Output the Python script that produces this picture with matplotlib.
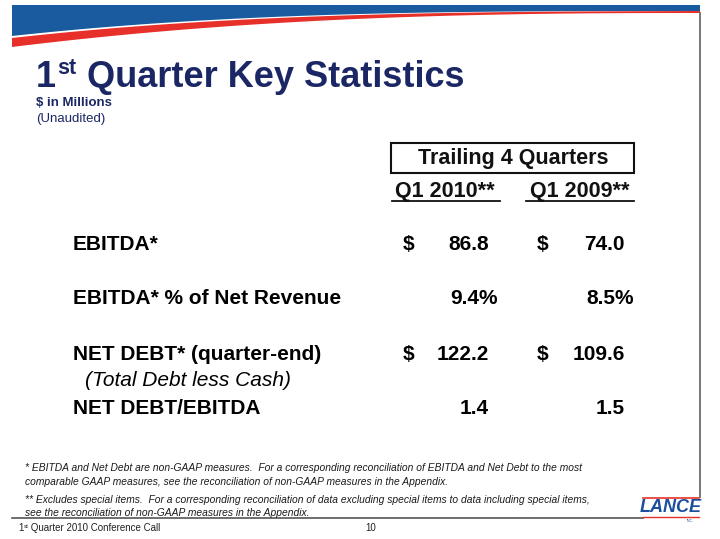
import numpy as np
import matplotlib
matplotlib.use("Agg")
import matplotlib.pyplot as plt
from matplotlib.patches import Polygon, Rectangle

# ---- data ----
row_labels = ["EBITDA*", "EBITDA* % of Net Revenue", "NET DEBT* (quarter-end)", "NET DEBT/EBITDA"]
row_kinds = ["dollar", "pct", "dollar", "ratio"]
q1_2010 = [86.8, 9.4, 122.2, 1.4]
q1_2009 = [74.0, 8.5, 109.6, 1.5]
col_headers = ["Q1 2010**", "Q1 2009**"]
group_header = "Trailing 4 Quarters"
sub_label = "(Total Debt less Cash)"
footnotes = [
    "* EBITDA and Net Debt are non-GAAP measures.  For a corresponding reconciliation of EBITDA and Net Debt to the most",
    "comparable GAAP measures, see the reconciliation of non-GAAP measures in the Appendix.",
    "** Excludes special items.  For a corresponding reconciliation of data excluding special items to data including special items,",
    "see the reconciliation of non-GAAP measures in the Appendix.",
]

NAVY = "#1b2664"
BLUE = "#1a5a9e"
RED = "#e8302a"
FONT = "Liberation Sans"
TFS = 15  # table font size

fig = plt.figure(figsize=(7.2, 5.39), dpi=100)
ax = fig.add_axes([0, 0, 1, 1])
ax.set_xlim(0, 720)
ax.set_ylim(539, 0)
ax.axis("off")

# ---- banner ----
xs = np.linspace(12, 700, 200)
t = (700 - xs) / 688.0
blue_bot = 11 + 25 * t ** 3
red_top = blue_bot + 2 * t
red_bot = 13 + 34 * t ** 2.5
blue_poly = np.vstack([np.column_stack([xs, np.full_like(xs, 5)]),
                       np.column_stack([xs[::-1], blue_bot[::-1]])])
ax.add_patch(Polygon(blue_poly, closed=True, facecolor=BLUE, edgecolor="none"))
red_poly = np.vstack([np.column_stack([xs, red_top]),
                      np.column_stack([xs[::-1], red_bot[::-1]])])
ax.add_patch(Polygon(red_poly, closed=True, facecolor=RED, edgecolor="none"))

# right border and bottom line
ax.plot([700, 700], [13, 497], color="#6b6b6b", lw=1.3)
ax.plot([12, 643], [518, 518], color="#555555", lw=1.2)

# ---- title ----
fig.canvas.draw()
r = fig.canvas.get_renderer()
inv = ax.transData.inverted()

def right_of(txt):
    bb = txt.get_window_extent(renderer=r)
    return inv.transform((bb.x1, bb.y0))[0]

t1 = ax.text(36, 87, "1", fontsize=26, fontweight="bold", color=NAVY, family=FONT, va="baseline")
x1 = right_of(t1)
t2 = ax.text(x1 + 1, 74, "st", fontsize=15.5, fontweight="bold", color=NAVY, family=FONT, va="baseline")
x2 = right_of(t2)
ax.text(x2 + 1, 87, " Quarter Key Statistics", fontsize=26, fontweight="bold", color=NAVY,
        family=FONT, va="baseline")
ax.text(36, 103, "$ in Millions", fontsize=9.5, fontweight="bold", color=NAVY, family=FONT, va="center")
ax.text(36, 119, "(Unaudited)", fontsize=9.5, color=NAVY, family=FONT, va="center")

# ---- table header ----
ax.add_patch(Rectangle((391, 143), 243, 30, fill=False, edgecolor="#111111", lw=1.5))
ax.text(513, 158.5, group_header, fontsize=TFS + 0.5, fontweight="bold", family=FONT,
        ha="center", va="center", color="#111111")
ul = [(392, 500), (526, 634)]
col_centers = [445, 580]
for i, h in enumerate(col_headers):
    ax.text(col_centers[i], 191, h, fontsize=TFS + 0.5, fontweight="bold", family=FONT,
            ha="center", va="center", color="#111111")
    ax.plot(list(ul[i]), [201, 201], color="#111111", lw=1.3)

# ---- table rows ----
row_y = [244, 299, 354, 409]
col_right = [489, 625]
dollar_x = [403, 537]
for yi, lab, kind, a, b in zip(row_y, row_labels, row_kinds, q1_2010, q1_2009):
    ax.text(73, yi, lab, fontsize=TFS, fontweight="bold", family=FONT, va="center", color="black")
    for ci, v in enumerate([a, b]):
        if kind == "pct":
            s = f"{v:.1f}%"
            xr = col_right[ci] + 9
        else:
            s = f"{v:.1f}"
            xr = col_right[ci]
        ax.text(xr, yi, s, fontsize=TFS, fontweight="bold", family=FONT, ha="right", va="center",
                color="black")
        if kind == "dollar":
            ax.text(dollar_x[ci], yi, "$", fontsize=TFS, fontweight="bold", family=FONT,
                    ha="left", va="center", color="black")
ax.text(85, 381, sub_label, fontsize=TFS, style="italic", family=FONT, va="center", color="black")

# ---- footnotes ----
fn_y = [468, 482, 500, 513]
for yy, s in zip(fn_y, footnotes):
    ax.text(25, yy, s, fontsize=7.4, style="italic", family=FONT, va="center",
            color="#1a1a1a")

# ---- footer ----
f1 = ax.text(18, 531, "1", fontsize=7, family=FONT, va="baseline", color="#222222")
fx = right_of(f1)
f2 = ax.text(fx, 528, "st", fontsize=4.5, family=FONT, va="baseline", color="#222222")
fx2 = right_of(f2)
ax.text(fx2, 531, " Quarter 2010 Conference Call", fontsize=7, family=FONT, va="baseline", color="#222222")
ax.text(365, 531, "10", fontsize=7, family=FONT, va="baseline", color="#222222")

# ---- logo ----
ax.plot([643, 699], [498, 498], color=RED, lw=1.2)
ax.plot([643, 699], [516.5, 516.5], color=RED, lw=1.0)
ax.text(671, 507, "LANCE", fontsize=13, fontweight="bold", style="italic", family=FONT,
        ha="center", va="center", color="#1d4e9e")
ax.text(690, 521, "INC.", fontsize=2.5, family=FONT, ha="center", va="center", color="#1d4e9e")

fig.savefig("out.png", dpi=100)
